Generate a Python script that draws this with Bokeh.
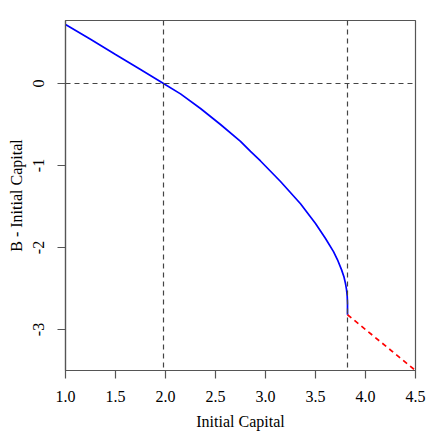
from bokeh.plotting import figure
from bokeh.models import FixedTicker, Range1d, Span
from bokeh.embed import file_html
from bokeh.resources import INLINE

# ---- data ----
blue_x = [1.0, 1.25, 1.5, 1.75, 1.98, 2.15, 2.35, 2.55, 2.75, 2.85, 2.95, 3.15,
          3.35, 3.50, 3.60, 3.68, 3.72, 3.76, 3.785, 3.80, 3.81, 3.817, 3.82, 3.82]
blue_y = [0.72, 0.54, 0.354, 0.17, 0.0, -0.127, -0.305, -0.50, -0.707, -0.829, -0.945, -1.195,
          -1.467, -1.707, -1.89, -2.05, -2.15, -2.27, -2.36, -2.44, -2.51, -2.59, -2.68, -2.82]
red_x = [3.82, 4.5]
red_y = [-2.82, -3.5]
vlines_x = [1.98, 3.82]
hline_y = [0.0]
x_ticks = [1.0, 1.5, 2.0, 2.5, 3.0, 3.5, 4.0, 4.5]
x_tick_labels = ["1.0", "1.5", "2.0", "2.5", "3.0", "3.5", "4.0", "4.5"]
y_ticks = [-3, -2, -1, 0]
y_tick_labels = ["-3", "-2", "-1", "0"]
x_title = "Initial Capital"
y_title = "B - Initial Capital"

FONT = "Liberation Serif"
AX = "#555555"

p = figure(width=436, height=436, output_backend="svg", toolbar_location=None,
           x_range=Range1d(1.0, 4.5), y_range=Range1d(-3.5, 0.768),
           min_border_left=65, min_border_right=21, min_border_top=20, min_border_bottom=66)
p.grid.visible = False
p.outline_line_color = AX
p.outline_line_width = 1.2
p.background_fill_color = "white"
p.border_fill_color = "white"

for ax in (p.xaxis[0], p.yaxis[0]):
    ax.axis_line_color = AX
    ax.axis_line_width = 1.2
    ax.major_tick_line_color = AX
    ax.major_tick_line_width = 1.2
    ax.major_tick_out = 8
    ax.major_tick_in = 0
    ax.minor_tick_line_color = None
    ax.major_label_text_font = FONT
    ax.major_label_text_font_size = "16px"
    ax.major_label_text_color = "black"
    ax.axis_label_text_font = FONT
    ax.axis_label_text_font_size = "16px"
    ax.axis_label_text_font_style = "normal"
    ax.axis_label_text_color = "black"

p.xaxis[0].ticker = FixedTicker(ticks=x_ticks)
p.xaxis[0].major_label_overrides = {t: l for t, l in zip(x_ticks, x_tick_labels)}
p.xaxis[0].axis_label = x_title
p.xaxis[0].major_label_standoff = 12
p.xaxis[0].axis_label_standoff = 8

p.yaxis[0].ticker = FixedTicker(ticks=y_ticks)
p.yaxis[0].major_label_overrides = {t: l for t, l in zip(y_ticks, y_tick_labels)}
p.yaxis[0].major_label_orientation = "vertical"
p.yaxis[0].axis_label = y_title
p.yaxis[0].major_label_standoff = 13
p.yaxis[0].axis_label_standoff = 6

for xv in vlines_x:
    p.add_layout(Span(location=xv, dimension="height", line_color="#444444",
                      line_width=1.2, line_dash="5 4"))
for yv in hline_y:
    p.add_layout(Span(location=yv, dimension="width", line_color="#444444",
                      line_width=1.2, line_dash="5 4"))

p.line(blue_x, blue_y, line_color="blue", line_width=1.7)
p.line(red_x, red_y, line_color="red", line_width=1.7, line_dash="5 4")

open("out.html", "w").write(file_html(p, INLINE))
